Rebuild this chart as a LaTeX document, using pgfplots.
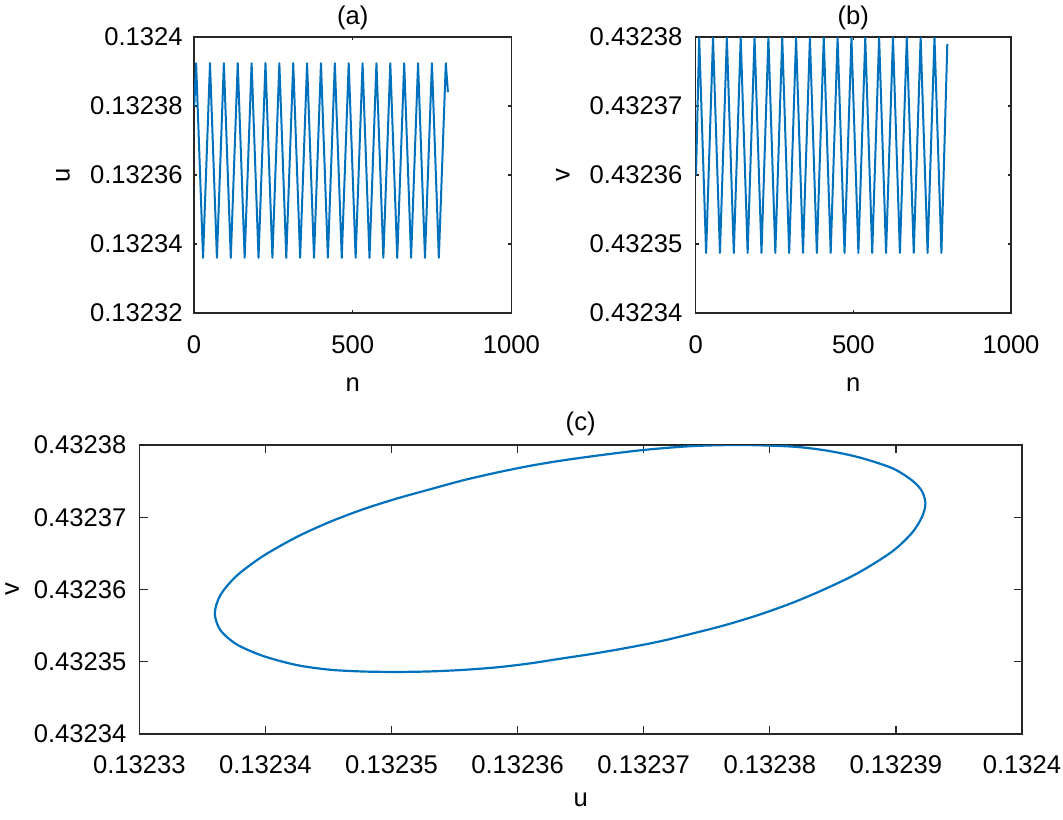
\documentclass[border=0pt]{standalone}
\usepackage{fontspec}
\setmainfont{Liberation Sans}
\usepackage{pgfplots}
\pgfplotsset{compat=1.18}
\definecolor{mblue}{rgb}{0,0.447,0.741}
\definecolor{axgray}{gray}{0.15}

% values on the y axes (and x in (c)) are kept as offsets in units of 1e-5
% from the lowest tick, so that the FPU keeps enough digits
\pgfplotsset{
  mlab/.style={
    scale only axis,
    anchor=south west,
    axis line style={axgray, line width=0.7pt},
    every tick/.style={axgray, line width=0.6pt},
    tick align=inside,
    /pgf/number format/assume math mode=true,
    /pgf/number format/1000 sep={},
    tick label style={font=\fontsize{12.8}{15}\selectfont, black},
    label style={font=\fontsize{12.8}{15}\selectfont},
    every axis title/.style={at={(0.5,1)}, anchor=center, font=\fontsize{12.8}{15}\selectfont},
    xlabel style={anchor=center},
    ylabel style={anchor=center},
    xticklabel style={anchor=center, yshift=-16pt},
  },
  curve/.style={mblue, line width=1pt, line join=round, mark=none},
}

\begin{document}
\fontsize{12.8}{15}\selectfont
\begin{tikzpicture}
\useasboundingbox (0,0) rectangle (531.5pt,409.5pt);

% (a) u against n
\begin{axis}[mlab, at={(97pt,253pt)}, width=158.7pt, height=138pt,
  xmin=0, xmax=1000, ymin=0, ymax=8,
  xtick={0,500,1000}, ytick={0,2,4,6,8},
  yticklabels={0.13232,0.13234,0.13236,0.13238,0.1324},
  yticklabel style={xshift=-1.25pt},
  major tick length=1.6pt,
  title={(a)}, title style={at={(axis description cs:0.5,1.068)}},
  xlabel={n}, xlabel style={at={(axis description cs:0.5,-0.261)}},
  ylabel={u}, ylabel style={at={(axis description cs:-0.413,0.5)}},
]
\addplot[curve] coordinates {
(1,6.0) (6.7,7.24) (28.5,1.60) (50.4,7.24) (72.2,1.60) (94.1,7.24)
(115.9,1.60) (137.8,7.24) (159.6,1.60) (181.5,7.24) (203.3,1.60)
(225.2,7.24) (247.0,1.60) (268.9,7.24) (290.7,1.60) (312.6,7.24)
(334.4,1.60) (356.3,7.24) (378.1,1.60) (400.0,7.24) (421.8,1.60)
(443.7,7.24) (465.5,1.60) (487.4,7.24) (509.2,1.60) (531.1,7.24)
(552.9,1.60) (574.8,7.24) (596.6,1.60) (618.5,7.24) (640.3,1.60)
(662.2,7.24) (684.0,1.60) (705.9,7.24) (727.7,1.60) (749.6,7.24)
(771.4,1.60) (793.3,7.24) (800,6.4)
};
\end{axis}

% (b) v against n
\begin{axis}[mlab, at={(347.85pt,253pt)}, width=157.65pt, height=138pt,
  xmin=0, xmax=1000, ymin=0, ymax=4,
  xtick={0,500,1000}, ytick={0,1,2,3,4},
  yticklabels={0.43234,0.43235,0.43236,0.43237,0.43238},
  yticklabel style={xshift=-2.25pt},
  major tick length=1.6pt,
  title={(b)}, title style={at={(axis description cs:0.5,1.068)}},
  xlabel={n}, xlabel style={at={(axis description cs:0.5,-0.261)}},
  ylabel={v}, ylabel style={at={(axis description cs:-0.421,0.5)}},
]
\addplot[curve] coordinates {
(1,2.0) (11,3.99) (33,0.87) (54.9,3.99) (76.9,0.87) (98.8,3.99)
(120.8,0.87) (142.7,3.99) (164.7,0.87) (186.6,3.99) (208.6,0.87)
(230.5,3.99) (252.5,0.87) (274.4,3.99) (296.4,0.87) (318.3,3.99)
(340.3,0.87) (362.2,3.99) (384.2,0.87) (406.1,3.99) (428.1,0.87)
(450.0,3.99) (472.0,0.87) (493.9,3.99) (515.9,0.87) (537.8,3.99)
(559.8,0.87) (581.7,3.99) (603.7,0.87) (625.6,3.99) (647.6,0.87)
(669.5,3.99) (691.5,0.87) (713.4,3.99) (735.4,0.87) (757.3,3.99)
(779.3,0.87) (798,3.9)
};
\end{axis}

% (c) phase portrait v against u
\begin{axis}[mlab, at={(69.65pt,42.5pt)}, width=441.35pt, height=144.5pt,
  xmin=0, xmax=7, ymin=0, ymax=4,
  xtick={0,1,2,3,4,5,6,7}, ytick={0,1,2,3,4},
  xticklabels={0.13233,0.13234,0.13235,0.13236,0.13237,0.13238,0.13239,0.1324},
  yticklabels={0.43234,0.43235,0.43236,0.43237,0.43238},
  xticklabel style={yshift=0.5pt},
  yticklabel style={xshift=-2pt},
  major tick length=4.2pt,
  title={(c)}, title style={at={(axis description cs:0.5,1.072)}},
  xlabel={u}, xlabel style={at={(axis description cs:0.5,-0.228)}},
  ylabel={v}, ylabel style={at={(axis description cs:-0.144,0.5)}},
]
\addplot[curve, smooth, line width=1.1pt] coordinates {
(2.038,0.858) (1.774,0.865) (1.510,0.89) (1.246,0.955) (0.977,1.083)
(0.769,1.244) (0.642,1.441) (0.599,1.669) (0.642,1.919) (0.769,2.185)
(0.977,2.458) (1.246,2.725) (1.510,2.935)
(1.774,3.11) (2.038,3.257) (2.302,3.385) (2.565,3.51) (2.830,3.617)
(3.093,3.71) (3.331,3.78) (3.595,3.845) (3.991,3.93) (4.386,3.985)
(4.782,4.00) (5.178,3.978) (5.442,3.925) (5.706,3.83) (5.970,3.68)
(6.128,3.51) (6.207,3.36) (6.234,3.19) (6.207,3.005) (6.128,2.785)
(5.970,2.525) (5.706,2.235) (5.442,2.01) (5.178,1.815) (4.914,1.65)
(4.651,1.51) (4.386,1.39) (4.123,1.28) (3.859,1.19) (3.595,1.11)
(3.331,1.04) (3.093,0.976) (2.830,0.922) (2.565,0.887) (2.302,0.866)
(2.038,0.858)
};
\end{axis}
\end{tikzpicture}
\end{document}
